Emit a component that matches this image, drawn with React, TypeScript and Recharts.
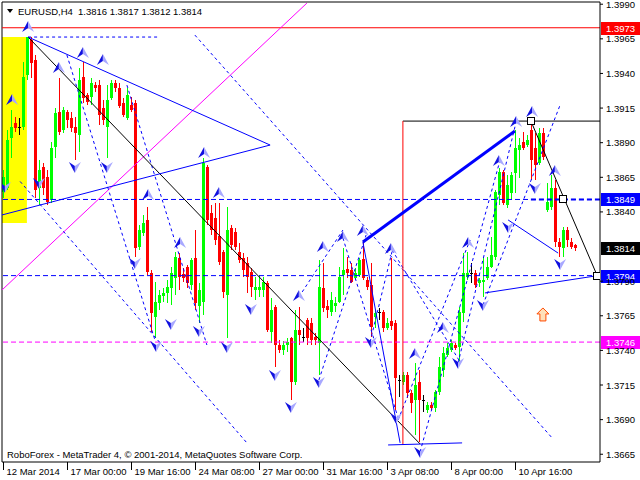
import React from 'react';
import { ComposedChart, Bar, Scatter, XAxis, YAxis, ReferenceLine, ReferenceArea } from 'recharts';

const opens = [
  1.38544,1.38573,1.38934,1.39042,1.39013,1.39013,1.39388,1.39641,1.39497,1.38573,
  1.38724,1.38652,1.38486,1.38869,1.39121,1.38991,1.39121,1.39078,1.39013,1.38955,
  1.39374,1.39244,1.39230,1.39316,1.39316,1.39150,1.39013,1.39222,1.39331,1.39295,
  1.39186,1.39078,1.39172,1.39186,1.38147,1.38248,1.38342,1.37959,1.37641,1.37742,
  1.37793,1.37815,1.37851,1.37923,1.38067,1.37952,1.38002,1.37872,1.38067,1.37721,
  1.37750,1.38724,1.38392,1.38356,1.38226,1.38111,1.37800,1.38284,1.38255,1.38111,
  1.38067,1.38031,1.37966,1.37836,1.37836,1.37836,1.37887,1.37533,1.37713,1.37439,
  1.37403,1.37439,1.37490,1.37172,1.37547,1.37497,1.37620,1.37598,1.37497,1.37454,
  1.37851,1.37721,1.37677,1.37721,1.37750,1.37945,1.37988,1.37981,1.37923,1.37945,
  1.38060,1.37908,1.37872,1.37641,1.37677,1.37677,1.37562,1.37612,1.37598,1.37186,
  1.37172,1.37222,1.37092,1.37042,1.37172,1.37042,1.36970,1.37006,1.36984,1.37100,
  1.37259,1.37367,1.37403,1.37439,1.37425,1.37670,1.37930,1.37959,1.37959,1.37887,
  1.37894,1.37923,1.38002,1.38075,1.38522,1.38688,1.38450,1.38537,1.38681,1.38847,
  1.38905,1.38883,1.38991,1.38861,1.38753,1.38970,1.38414,1.38436,1.38573,1.38183,
  1.38139,1.38269,1.38183,1.3816,
];
const closes = [
  1.38652,1.38919,1.39013,1.39006,1.39013,1.39374,1.39663,1.39475,1.38558,1.38703,
  1.38573,1.38472,1.38861,1.39114,1.38977,1.39136,1.39064,1.39006,1.38970,1.39352,
  1.39222,1.39194,1.39331,1.39295,1.39100,1.39064,1.39208,1.39331,1.39295,1.39165,
  1.39100,1.39244,1.39136,1.38139,1.38269,1.38320,1.37966,1.37670,1.37750,1.37800,
  1.37815,1.37858,1.37959,1.38075,1.37930,1.37923,1.37887,1.38053,1.37742,1.37836,
  1.38753,1.38342,1.38269,1.38197,1.38038,1.37822,1.38269,1.38161,1.38147,1.38053,
  1.37981,1.37930,1.37858,1.37858,1.37858,1.37894,1.37547,1.37692,1.37439,1.37403,
  1.37439,1.37461,1.37172,1.37547,1.37511,1.37497,1.37490,1.37475,1.37475,1.37858,
  1.37706,1.37692,1.37764,1.37742,1.37930,1.37981,1.37959,1.37894,1.37959,1.38053,
  1.37923,1.37858,1.37569,1.37670,1.37677,1.37562,1.37598,1.37576,1.37201,1.37186,
  1.37222,1.37092,1.37020,1.37150,1.37042,1.37042,1.37006,1.36984,1.37100,1.37280,
  1.37381,1.37417,1.37454,1.37417,1.37677,1.37959,1.37959,1.37959,1.37872,1.37908,
  1.37908,1.38002,1.38089,1.38544,1.38688,1.38464,1.38594,1.38667,1.38861,1.38883,
  1.38861,1.38919,1.38775,1.38739,1.38970,1.38797,1.38472,1.38573,1.38183,1.38147,
  1.38269,1.38197,1.38147,1.3814,
];
const highs = [
  1.38703,1.38991,1.39136,1.39085,1.39078,1.39482,1.39663,1.39663,1.39533,1.38775,
  1.38753,1.38703,1.38905,1.39150,1.39367,1.39157,1.39136,1.39121,1.39085,1.39439,
  1.39482,1.39259,1.39367,1.39338,1.39352,1.39208,1.39316,1.39352,1.39352,1.39331,
  1.39222,1.39295,1.39230,1.39208,1.38306,1.38378,1.38436,1.37981,1.37894,1.37836,
  1.37851,1.37908,1.38002,1.38111,1.38103,1.37995,1.38017,1.38067,1.38269,1.37887,
  1.38789,1.38739,1.38450,1.38464,1.38464,1.38125,1.38436,1.38306,1.38284,1.38176,
  1.38103,1.38075,1.37995,1.37930,1.37945,1.37930,1.37901,1.37778,1.37728,1.37475,
  1.37468,1.37490,1.37497,1.37692,1.37713,1.37562,1.37634,1.37634,1.37526,1.38053,
  1.38031,1.37764,1.37822,1.37786,1.38002,1.38139,1.38075,1.38031,1.37995,1.38067,
  1.38197,1.37930,1.38031,1.37692,1.37706,1.37692,1.37634,1.38067,1.37620,1.37222,
  1.37244,1.37244,1.37114,1.37309,1.37259,1.37078,1.37028,1.37028,1.37114,1.37352,
  1.37425,1.37454,1.37475,1.37454,1.37713,1.38103,1.38111,1.38031,1.37981,1.37923,
  1.38075,1.38075,1.38219,1.38558,1.38717,1.38703,1.38667,1.38688,1.38991,1.38934,
  1.38977,1.38955,1.39056,1.38970,1.39006,1.39006,1.38609,1.38667,1.38630,1.38212,
  1.38291,1.38291,1.38212,1.3817,
];
const lows = [
  1.38500,1.38558,1.38789,1.38977,1.38955,1.38991,1.39352,1.39367,1.38500,1.38450,
  1.38522,1.38450,1.38464,1.38789,1.38955,1.38970,1.39006,1.38977,1.38775,1.38833,
  1.39186,1.39172,1.39172,1.39266,1.39028,1.39028,1.38789,1.39208,1.39266,1.39150,
  1.39085,1.39064,1.39121,1.38075,1.38125,1.38226,1.37945,1.37533,1.37490,1.37692,
  1.37750,1.37742,1.37728,1.37800,1.37836,1.37894,1.37851,1.37836,1.37692,1.37598,
  1.37656,1.38306,1.38233,1.38161,1.38017,1.37778,1.37490,1.38125,1.38125,1.38031,
  1.37930,1.37815,1.37786,1.37764,1.37786,1.37786,1.37533,1.37454,1.37280,1.37381,
  1.37367,1.37389,1.37042,1.37150,1.37439,1.37461,1.37439,1.37439,1.37439,1.37222,
  1.37677,1.37634,1.37649,1.37677,1.37742,1.37800,1.37923,1.37887,1.37908,1.37930,
  1.37908,1.37836,1.37497,1.37562,1.37620,1.37533,1.37547,1.37547,1.36970,1.37064,
  1.37150,1.37056,1.36948,1.36789,1.36739,1.36955,1.36948,1.36970,1.36955,1.37078,
  1.37208,1.37352,1.37389,1.37403,1.37295,1.37605,1.37908,1.37887,1.37851,1.37858,
  1.37786,1.37908,1.37995,1.38053,1.38450,1.38450,1.38428,1.38486,1.38537,1.38645,
  1.38847,1.38869,1.38630,1.38630,1.38739,1.38775,1.38399,1.38414,1.38147,1.38075,
  1.38075,1.38147,1.38132,1.3812,
];

const timeTickIndex = [0, 16, 32, 48, 64, 80, 96, 112, 128];
const timeTickLabels = ['12 Mar 2014', '17 Mar 00:00', '19 Mar 16:00', '24 Mar 08:00', '27 Mar 00:00', '31 Mar 16:00', '3 Apr 08:00', '8 Apr 00:00', '10 Apr 16:00'];
const priceTicks = [1.3665, 1.369, 1.3715, 1.374, 1.3765, 1.379, 1.384, 1.3865, 1.389, 1.3915, 1.394, 1.3965, 1.399];

// fractal arrows [bar index, price]
const upArrows = [
  [6.2, 1.39735], [2.2, 1.39208], [13.9, 1.39439], [19.9, 1.39547], [24.9, 1.39497],
  [36.2, 1.38522], [44.2, 1.38176], [50.2, 1.38825], [53.9, 1.38537], [73.9, 1.37793],
  [79.9, 1.38147], [84.9, 1.38219], [89.9, 1.38262], [96.9, 1.38132], [102.9, 1.37374],
  [109.9, 1.37562], [116.2, 1.38176], [123.9, 1.38768], [128.2, 1.39049], [132.2, 1.39121],
  [137.9, 1.38695],
];
const downArrows = [
  [0.4, 1.3858], [8.9, 1.38609], [17.9, 1.38724], [25.9, 1.38724], [32.9, 1.38031],
  [38.2, 1.37432], [41.9, 1.37591], [48.9, 1.3754], [55.9, 1.37425], [61.9, 1.37699],
  [67.9, 1.37222], [71.9, 1.36991], [78.9, 1.37172], [91.9, 1.37461], [98.2, 1.36912],
  [104.2, 1.36667], [113.7, 1.37309], [119.9, 1.37728], [126.2, 1.38291], [132.9, 1.38573],
  [139.2, 1.38024],
];
const targetArrow = [[134.9, 1.37656]];
const anchorSquares = [[131.9, 1.39056], [139.9, 1.3849], [148.4, 1.3794]];

// segments [startIndex, startPrice, endIndex, endPrice]
const blueLines = [
  [6.2, 1.39663, 66.7, 1.38883],
  [-0.33, 1.38378, 66.7, 1.38883],
  [89.9, 1.38183, 99.2, 1.36732],
  [96.2, 1.36717, 114.7, 1.36732],
  [120.4, 1.37815, 147.9, 1.37937],
  [126.2, 1.38342, 138.7, 1.38103],
];
const boldBlueLines = [[89.9, 1.38183, 127.9, 1.38984]];
const blackLines = [
  [6.2, 1.39663, 104.2, 1.36724],
  [131.9, 1.39056, 148.4, 1.37945],
  [99.9, 1.39056, 149.2, 1.39056],
];
const redLines = [[99.9, 1.39056, 99.9, 1.36717]];
const magentaLines = [[-0.33, 1.37836, 75.9, 1.39908]];
const dashedBlueLines = [
  [6.2, 1.39663, 39.2, 1.39663],
  [47.9, 1.39677, 137.2, 1.36768],
  [4.2, 1.3862, 60.9, 1.36732],
  [15.9, 1.39533, 37.9, 1.37475],
  [30.9, 1.39316, 50.9, 1.37439],
  [73.9, 1.37786, 84.9, 1.38269],
  [78.9, 1.37186, 90.7, 1.38233],
  [91.7, 1.37461, 97.4, 1.38139],
  [84.9, 1.38212, 98.7, 1.36912],
  [97.2, 1.38125, 114.2, 1.37316],
  [98.7, 1.36898, 116.7, 1.38197],
  [104.2, 1.36667, 124.2, 1.38775],
  [113.7, 1.37309, 128.2, 1.39049],
  [119.9, 1.37728, 139.2, 1.39172],
];
const boldDashedBlue = [[131.9, 1.3849, 149.2, 1.3849]];
const yellowZone = [-0.33, 5.9, 1.3832, 1.39663];

const redLevel = 1.3973;
const blueLevels = [1.3849, 1.3794];
const magentaLevel = 1.3746;
const lastPrice = 1.3814;

const X_DOMAIN = [-0.325, 149.175];
const Y_DOMAIN = [1.36594, 1.39916];
const FONT = 'Liberation Sans, Arial, sans-serif';

const candles = opens.map((o, i) => ({
  i,
  open: o,
  high: highs[i],
  low: lows[i],
  close: closes[i],
  range: [lows[i], highs[i]],
}));
const toPts = (arr: number[][]) => arr.map(([i, p]) => ({ i, p }));

const CandleShape = (props: any) => {
  const { x, y, width, height, payload } = props;
  if (x == null || payload == null) return null;
  const top = Math.min(y, y + height);
  const h = Math.abs(height);
  const { open, close, high, low } = payload;
  const span = high - low;
  const toY = (v: number) => (span > 0 ? top + ((high - v) / span) * h : top);
  const cx = x + width / 2;
  const left = Math.round(cx - 1.5);
  const bTop = Math.round(toY(Math.max(open, close)));
  const bBot = Math.round(toY(Math.min(open, close)));
  const color = close > open ? '#00ff00' : close < open ? '#ff0000' : '#000000';
  const wTop = Math.round(top);
  const wBot = Math.round(top + h);
  return (
    <g shapeRendering="crispEdges">
      <rect x={left + 1} y={wTop} width={1} height={Math.max(1, wBot - wTop)} fill={color} />
      <rect x={left} y={bTop} width={3} height={Math.max(1, bBot - bTop)} fill={color} />
    </g>
  );
};

const UpArrow = (props: any) => {
  const { cx, cy } = props;
  if (cx == null) return null;
  return (
    <g>
      <polygon points={`${cx},${cy - 6} ${cx},${cy + 1} ${cx - 6},${cy + 5}`} fill="#1010e0" />
      <polygon points={`${cx},${cy - 6} ${cx + 6},${cy + 5} ${cx},${cy + 1}`} fill="#a8a8ff" />
    </g>
  );
};
const DownArrow = (props: any) => {
  const { cx, cy } = props;
  if (cx == null) return null;
  return (
    <g>
      <polygon points={`${cx},${cy + 6} ${cx},${cy - 1} ${cx - 6},${cy - 5}`} fill="#1010e0" />
      <polygon points={`${cx},${cy + 6} ${cx + 6},${cy - 5} ${cx},${cy - 1}`} fill="#a8a8ff" />
    </g>
  );
};
const TargetArrow = (props: any) => {
  const { cx, cy } = props;
  if (cx == null) return null;
  return (
    <path
      d={`M${cx},${cy - 7} L${cx + 6},${cy - 1} L${cx + 3},${cy - 1} L${cx + 3},${cy + 6} L${cx - 3},${cy + 6} L${cx - 3},${cy - 1} L${cx - 6},${cy - 1} Z`}
      fill="#ffe0b8"
      stroke="#ff4a00"
      strokeWidth={1}
    />
  );
};
const Square = (props: any) => {
  const { cx, cy } = props;
  if (cx == null) return null;
  return <rect x={Math.round(cx) - 3.5} y={Math.round(cy) - 3.5} width={7} height={7} fill="#fff" stroke="#000" strokeWidth={1} />;
};

const TimeTick = (props: any) => {
  const { x, y, payload } = props;
  const idx = timeTickIndex.indexOf(payload.value);
  const px = Math.round(x) + 0.5;
  return (
    <g>
      <line x1={px} y1={y} x2={px} y2={y + 8} stroke="#000" />
      <text x={px + 3} y={y + 13} fontSize={9.5} fontFamily={FONT} fill="#000">
        {timeTickLabels[idx]}
      </text>
    </g>
  );
};

const PriceTick = (props: any) => {
  const { x, y, payload } = props;
  return (
    <text x={x} y={y + 3.5} fontSize={9.5} fontFamily={FONT} fill="#000" textAnchor="start">
      {Number(payload.value).toFixed(4)}
    </text>
  );
};

const PriceTag = (props: any) => {
  const { viewBox, color, text } = props;
  if (!viewBox) return null;
  const x = viewBox.x + viewBox.width + 1;
  const y = Math.round(viewBox.y);
  return (
    <g>
      <rect x={x} y={y - 6} width={40} height={13} fill={color} />
      <text x={x + 5} y={y + 4} fontSize={9.5} fontFamily={FONT} fill="#fff">
        {text}
      </text>
    </g>
  );
};

const seg = (s: number[]) => [
  { x: s[0], y: s[1] },
  { x: s[2], y: s[3] },
];

export default function App() {
  return (
    <div style={{ position: 'absolute', left: 0, top: 0, width: 640, height: 480, background: '#fff' }}>
      <ComposedChart width={640} height={480} data={candles} margin={{ top: 2, right: 0, bottom: 0, left: 2 }}>
        <XAxis
          dataKey="i"
          type="number"
          domain={X_DOMAIN}
          allowDataOverflow
          ticks={timeTickIndex}
          interval={0}
          tick={<TimeTick />}
          tickLine={false}
          tickSize={0}
          tickMargin={0}
          height={18}
          axisLine={{ stroke: '#000' }}
        />
        <YAxis
          type="number"
          orientation="right"
          domain={Y_DOMAIN}
          allowDataOverflow
          ticks={priceTicks}
          interval={0}
          width={40}
          tick={<PriceTick />}
          tickSize={3}
          tickMargin={3}
          tickLine={{ stroke: '#000' }}
          axisLine={{ stroke: '#000' }}
        />
        <ReferenceArea
          x1={yellowZone[0]}
          x2={yellowZone[1]}
          y1={yellowZone[2]}
          y2={yellowZone[3]}
          fill="#ffff00"
          fillOpacity={1}
          stroke="none"
          ifOverflow="hidden"
        />
        <ReferenceLine y={Y_DOMAIN[1]} stroke="#000" ifOverflow="visible" />
        <ReferenceLine x={X_DOMAIN[0]} stroke="#000" ifOverflow="visible" />
        <ReferenceLine y={redLevel} stroke="#ff0000" label={<PriceTag color="#ff0000" text={redLevel.toFixed(4)} />} />
        {blueLevels.map((v) => (
          <ReferenceLine key={v} y={v} stroke="#0000ff" strokeDasharray="5 3" label={<PriceTag color="#0000ff" text={v.toFixed(4)} />} />
        ))}
        <ReferenceLine y={magentaLevel} stroke="#ff00ff" strokeDasharray="5 3" label={<PriceTag color="#ff00ff" text={magentaLevel.toFixed(4)} />} />
        <ReferenceLine y={lastPrice} stroke="none" label={<PriceTag color="#000000" text={lastPrice.toFixed(4)} />} />
        <Bar dataKey="range" barSize={3} shape={<CandleShape />} isAnimationActive={false} />
        {magentaLines.map((s, k) => (
          <ReferenceLine key={'m' + k} segment={seg(s)} stroke="#ff00ff" ifOverflow="hidden" />
        ))}
        {dashedBlueLines.map((s, k) => (
          <ReferenceLine key={'d' + k} segment={seg(s)} stroke="#0000ff" strokeDasharray="3 3" ifOverflow="hidden" />
        ))}
        {boldDashedBlue.map((s, k) => (
          <ReferenceLine key={'bd' + k} segment={seg(s)} stroke="#0000ff" strokeWidth={2} strokeDasharray="5 3" ifOverflow="hidden" />
        ))}
        {blackLines.map((s, k) => (
          <ReferenceLine key={'k' + k} segment={seg(s)} stroke="#000000" ifOverflow="hidden" />
        ))}
        {redLines.map((s, k) => (
          <ReferenceLine key={'r' + k} segment={seg(s)} stroke="#ff0000" ifOverflow="hidden" />
        ))}
        {blueLines.map((s, k) => (
          <ReferenceLine key={'b' + k} segment={seg(s)} stroke="#0000ff" ifOverflow="hidden" />
        ))}
        {boldBlueLines.map((s, k) => (
          <ReferenceLine key={'bb' + k} segment={seg(s)} stroke="#0000ff" strokeWidth={3} ifOverflow="hidden" />
        ))}
        <Scatter data={toPts(upArrows)} dataKey="p" shape={<UpArrow />} isAnimationActive={false} />
        <Scatter data={toPts(downArrows)} dataKey="p" shape={<DownArrow />} isAnimationActive={false} />
        <Scatter data={toPts(targetArrow)} dataKey="p" shape={<TargetArrow />} isAnimationActive={false} />
        <Scatter data={toPts(anchorSquares)} dataKey="p" shape={<Square />} isAnimationActive={false} />
      </ComposedChart>
      <svg width={640} height={480} style={{ position: 'absolute', left: 0, top: 0, pointerEvents: 'none' }}>
        <path d="M7 9 L13 9 L10 13 Z" fill="#000" />
        <text x={18} y={14.5} fontSize={9.5} fontFamily={FONT} fill="#000">EURUSD,H4</text>
        <text x={78} y={14.5} fontSize={9.5} fontFamily={FONT} fill="#000">1.3816 1.3817 1.3812 1.3814</text>
        <text x={7} y={458} fontSize={9.5} fontFamily={FONT} fill="#000">RoboForex - MetaTrader 4, © 2001-2014, MetaQuotes Software Corp.</text>
      </svg>
    </div>
  );
}
